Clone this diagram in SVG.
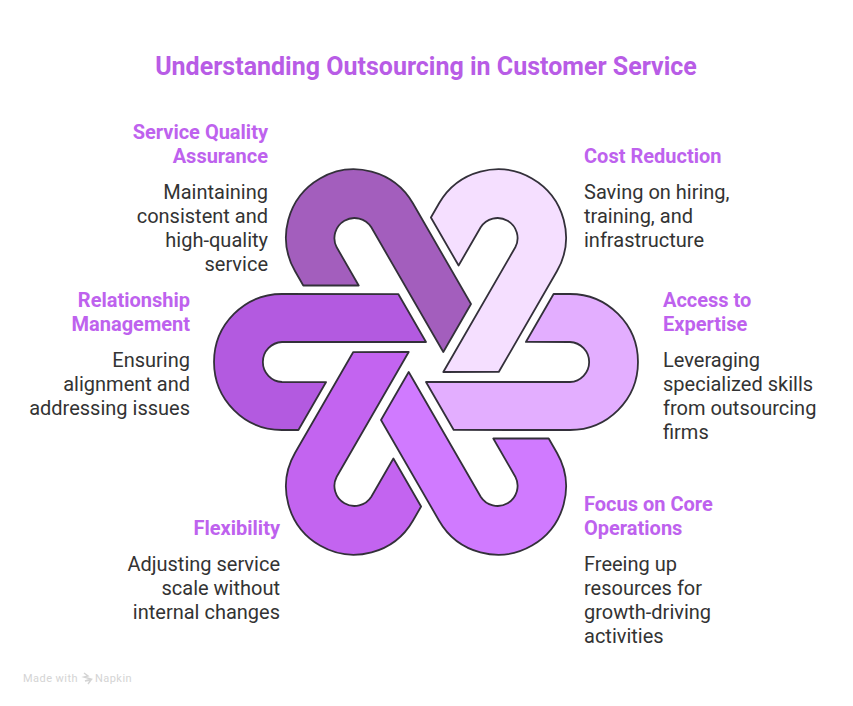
<svg xmlns="http://www.w3.org/2000/svg" xmlns:xlink="http://www.w3.org/1999/xlink" width="853" height="706" viewBox="0 0 853 706">
<style>
text{font-family:Roboto,"Liberation Sans",sans-serif}
.title{font-size:25px;font-weight:700;fill:#B85CE6;text-anchor:middle}
.h{font-size:20px;font-weight:700;fill:#BE62EE}
.b{font-size:20px;fill:#333}
.r{text-anchor:end}
.band{stroke:#33303a;stroke-width:1.8;stroke-linejoin:round}
.foot{font-size:11px;fill:#d4d4d4;letter-spacing:.45px}
</style>
<defs>
<path id="band" class="band" d="M303.3,285.5L295.1,271.3A68,68 0 0 1 412.9,203.3L471,304L443.3,352L371.3,227.3A20,20 0 0 0 336.7,247.3L358.7,285.5Z"/>
</defs>
<rect width="853" height="706" fill="#fff"/>
<text class="title" x="426" y="75">Understanding Outsourcing in Customer Service</text>
<g id="connectors"></g>
<g id="node-quality">
<use xlink:href="#band" href="#band" fill="#A35EBD"/>
<text class="h r" x="268" y="139">Service Quality</text>
<text class="h r" x="268" y="163">Assurance</text>
<text class="b r" x="268" y="199">Maintaining</text>
<text class="b r" x="268" y="223">consistent and</text>
<text class="b r" x="268" y="247">high-quality</text>
<text class="b r" x="268" y="271">service</text>
</g>
<g id="node-cost">
<use xlink:href="#band" href="#band" fill="#F5DFFF" transform="rotate(60 426 362)"/>
<text class="h" x="584" y="163">Cost Reduction</text>
<text class="b" x="584" y="199">Saving on hiring,</text>
<text class="b" x="584" y="223">training, and</text>
<text class="b" x="584" y="247">infrastructure</text>
</g>
<g id="node-expertise">
<use xlink:href="#band" href="#band" fill="#E3AEFF" transform="rotate(120 426 362)"/>
<text class="h" x="663" y="307">Access to</text>
<text class="h" x="663" y="331">Expertise</text>
<text class="b" x="663" y="367">Leveraging</text>
<text class="b" x="663" y="391">specialized skills</text>
<text class="b" x="663" y="415">from outsourcing</text>
<text class="b" x="663" y="439">firms</text>
</g>
<g id="node-focus">
<use xlink:href="#band" href="#band" fill="#D07AFF" transform="rotate(180 426 362)"/>
<text class="h" x="584" y="511">Focus on Core</text>
<text class="h" x="584" y="535">Operations</text>
<text class="b" x="584" y="571">Freeing up</text>
<text class="b" x="584" y="595">resources for</text>
<text class="b" x="584" y="619">growth-driving</text>
<text class="b" x="584" y="643">activities</text>
</g>
<g id="node-flexibility">
<use xlink:href="#band" href="#band" fill="#C364F0" transform="rotate(240 426 362)"/>
<text class="h r" x="280" y="535">Flexibility</text>
<text class="b r" x="280" y="571">Adjusting service</text>
<text class="b r" x="280" y="595">scale without</text>
<text class="b r" x="280" y="619">internal changes</text>
</g>
<g id="node-relationship">
<use xlink:href="#band" href="#band" fill="#B35AE0" transform="rotate(300 426 362)"/>
<text class="h r" x="190" y="307">Relationship</text>
<text class="h r" x="190" y="331">Management</text>
<text class="b r" x="190" y="367">Ensuring</text>
<text class="b r" x="190" y="391">alignment and</text>
<text class="b r" x="190" y="415">addressing issues</text>
</g>
<g id="footer">
<text class="foot" x="23" y="682">Made with</text>
<path d="M84,673l4,3l-4,1l7,2l-6,2l6,-1l-3,4" fill="none" stroke="#d4d4d4" stroke-width="1.4"/>
<text class="foot" x="95" y="682">Napkin</text>
</g>
</svg>
